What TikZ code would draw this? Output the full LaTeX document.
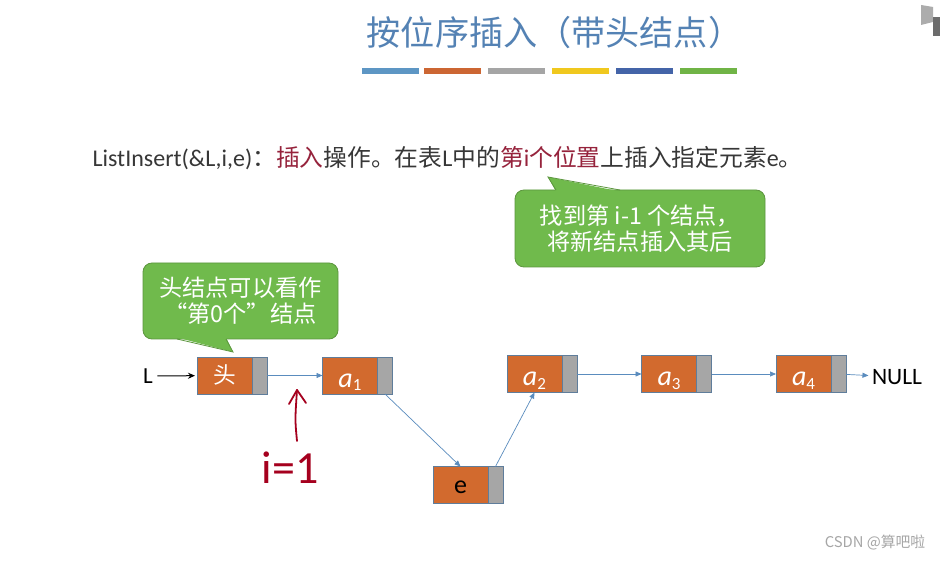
\documentclass[tikz,border=0pt]{standalone}
\usepackage{fontspec}
\setmainfont{Carlito}
\newfontfamily\cjk[Scale=1.08]{Noto Sans CJK SC}
\newfontfamily\cjkd[Scale=0.99]{Noto Sans CJK SC}
\usepackage{tikz}
\usetikzlibrary{positioning, arrows.meta, calc}
\usepackage{xcolor}

\newcommand{\elem}[1]{{\fontsize{28}{28}\selectfont\itshape a}\raisebox{-0.3ex}[0pt][0pt]{\fontsize{17}{17}\selectfont #1}}

\begin{document}
\begin{tikzpicture}[x=1pt, y=-1pt,
    datbox/.style={draw=boxedge, fill=nodeorange, line width=0.8pt, minimum width=55pt,
        minimum height=37pt, inner sep=0pt, outer sep=0pt, text=white, text height=23pt, text depth=0pt,
        font=\fontsize{26}{26}\selectfont},
    ptrbox/.style={draw=boxedge, fill=ptrgray, line width=0.8pt, minimum width=15pt,
        minimum height=37pt, inner sep=0pt, outer sep=0pt},
    link/.style={draw=linkblue, line width=0.7pt, -{Triangle[length=6pt, width=5pt]}},
    bubble/.style={draw=bubbleedge, fill=bubblegreen, rounded corners=9pt, line width=0.8pt,
        text=white, align=center, font=\cjk\fontsize{21.5}{26}\selectfont}]
    \definecolor{titleblue}{RGB}{84,130,180}
    \definecolor{txtgray}{RGB}{55,55,55}
    \definecolor{hlred}{RGB}{150,35,60}
    \definecolor{inkred}{RGB}{165,0,30}
    \definecolor{nodeorange}{RGB}{210,106,46}
    \definecolor{ptrgray}{RGB}{166,166,166}
    \definecolor{boxedge}{RGB}{95,125,155}
    \definecolor{linkblue}{RGB}{90,140,190}
    \definecolor{bubblegreen}{RGB}{112,186,76}
    \definecolor{bubbleedge}{RGB}{92,150,62}
    \definecolor{barblue}{RGB}{93,150,196}
    \definecolor{barorange}{RGB}{204,102,51}
    \definecolor{bargray}{RGB}{165,165,165}
    \definecolor{baryellow}{RGB}{240,200,30}
    \definecolor{bardkblue}{RGB}{68,100,168}
    \definecolor{bargreen}{RGB}{112,180,70}
    \fill[white] (0,0) rectangle (940,561);
    \useasboundingbox (0,0) rectangle (940,561);
    % title
    \node[text=titleblue, font=\cjk\fontsize{31.6}{31.6}\selectfont] (title) at (554.5,33) {按位序插入（带头结点）};
    % colour bars under the title
    \foreach \x/\c in {362/barblue, 424/barorange, 488/bargray, 552/baryellow, 616/bardkblue, 680/bargreen}{
        \fill[\c] (\x,68) rectangle ++(57,6);
    }
    % corner mark
    \fill[gray!65] (921,5) -- (933,7) -- (933,22) -- (921,25) -- cycle;
    \fill[gray!85!black] (933,17) rectangle (940,36);
    % description line
    \node[anchor=west, text=txtgray, font=\fontsize{24}{24}\selectfont] (desc) at (89,158)
        {ListInsert(\&L,i,e){\cjkd ：}{\color{hlred}\cjkd 插入}{\cjkd 操作。在表}L{\cjkd 中的}{\color{hlred}{\cjkd 第}i{\cjkd 个位置}}{\cjkd 上插入指定元素}e{\cjkd 。}};
    % callouts
    \node[bubble, minimum width=195pt, minimum height=76pt] (tipzero) at (240.5,301)
        {头结点可以看作\\“第0个”结点};
    \fill[bubblegreen] (177,337.5) -- (233,352) -- (226,337.5) -- cycle;
    \draw[bubbleedge, line width=0.8pt] (177,339) -- (233,352) -- (226,339);
    \node[bubble, minimum width=250pt, minimum height=77pt] (tipfind) at (640,228.5)
        {找到第 i-1 个结点，\\将新结点插入其后};
    \fill[bubblegreen] (556,191.5) -- (548,177) -- (620,191.5) -- cycle;
    \draw[bubbleedge, line width=0.8pt] (556,190) -- (548,177) -- (620,190);
    % list nodes: name / x / y / data
    \foreach \n/\x/\y/\t in {hd/224.5/375.5/{\cjk\fontsize{21}{21}\selectfont\raisebox{4pt}{头}},
        a1/350/375.5/\elem{1}, e/460.5/485/{\color{black}\raisebox{3pt}{e}},
        a2/534.5/374/\elem{2}, a3/669/374/\elem{3}, a4/803.5/374/\elem{4}}{
        \node[datbox] (\n) at (\x,\y) {\t};
        \node[ptrbox, right=0pt of \n] (\n-p) {};
    }
    \node[font=\fontsize{23}{23}\selectfont] (lhead) at (148,376) {L};
    \node[font=\fontsize{23.5}{23.5}\selectfont] (null) at (897,377) {NULL};
    % links
    \draw[-{Stealth[length=7pt, width=6pt]}, line width=1pt, shorten <=1pt, shorten >=2pt] (lhead) -- (hd);
    \draw[link] (hd-p) -- (a1);
    \draw[link] (a1-p.south) -- (e.north);
    \draw[link] (e-p.north) -- (a2.south);
    \draw[link] (a2-p) -- (a3);
    \draw[link] (a3-p) -- (a4);
    \draw[link] (a4-p) -- (null);
    % handwritten mark
    \node[text=inkred, font=\fontsize{46}{46}\selectfont] (ione) at (290,468) {i=1};
    \coordinate (arrtop) at (297,390);
    \coordinate (arrbot) at (297,441);
    \draw[inkred, line width=1.8pt, line cap=round] (arrbot) .. controls (295,420) .. (arrtop);
    \draw[inkred, line width=1.8pt, line cap=round, line join=round]
        ($(arrtop)+(-8,14)$) -- (arrtop) -- ($(arrtop)+(9,13)$);
    % watermark
    \node[text=gray!70, font=\cjk\fontsize{13.7}{13.7}\selectfont] (mark) at (875,543) {CSDN @算吧啦};
\end{tikzpicture}
\end{document}
